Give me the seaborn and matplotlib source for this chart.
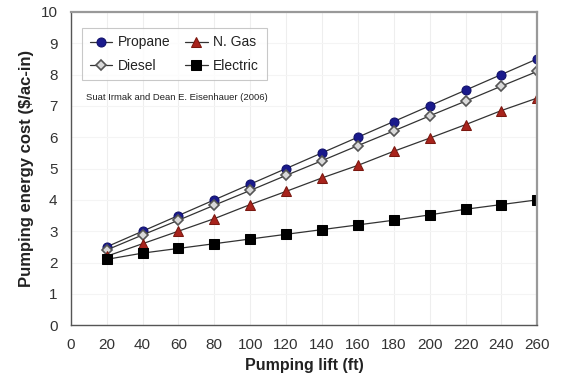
import pandas as pd
import seaborn as sns
import matplotlib
matplotlib.use("Agg")
import matplotlib.pyplot as plt

# Pumping lift (ft)
lift = [20, 40, 60, 80, 100, 120, 140, 160, 180, 200, 220, 240, 260]

# Pumping energy cost ($/ac-in)
propane = [2.5, 3.0, 3.5, 4.0, 4.5, 5.0, 5.5, 6.0, 6.5, 7.0, 7.5, 8.0, 8.5]
diesel = [2.4, 2.88, 3.35, 3.83, 4.3, 4.78, 5.25, 5.73, 6.2, 6.68, 7.15, 7.63, 8.1]
ngas = [2.2, 2.6, 3.0, 3.4, 3.85, 4.27, 4.7, 5.1, 5.55, 5.97, 6.4, 6.85, 7.25]
electric = [2.1, 2.3, 2.45, 2.6, 2.75, 2.9, 3.05, 3.2, 3.35, 3.52, 3.7, 3.85, 4.0]

x_ticks = [0, 20, 40, 60, 80, 100, 120, 140, 160, 180, 200, 220, 240, 260]
y_ticks = list(range(0, 11))

sns.set_style("white")
plt.rcParams['font.family'] = ['Liberation Sans', 'DejaVu Sans']

fig = plt.figure(figsize=(5.62, 3.83), dpi=100)
ax = fig.add_axes([0.126, 0.151, 0.830, 0.818])

# order chosen so the 2-column legend reads Propane / N. Gas on the first row
series = [
    ("Propane", propane, dict(marker="o", markersize=6.5, markerfacecolor="#1a1a8c",
                              markeredgecolor="#10106a")),
    ("Diesel", diesel, dict(marker="D", markersize=5, markerfacecolor="#d9d9d9",
                            markeredgecolor="#555555", markeredgewidth=1.2)),
    ("N. Gas", ngas, dict(marker="^", markersize=6.5, markerfacecolor="#a8231c",
                          markeredgecolor="#7a1810")),
    ("Electric", electric, dict(marker="s", markersize=6.5, markerfacecolor="black",
                                markeredgecolor="black")),
]

for name, vals, style in series:
    sns.lineplot(x=lift, y=vals, ax=ax, color="#333333", linewidth=0.9,
                 label=name, **style)

ax.set_xlim(0, 260)
ax.set_ylim(0, 10)
ax.set_xticks(x_ticks)
ax.set_yticks(y_ticks)
ax.tick_params(axis="both", direction="inout", length=7, width=0.8,
               color="#444444", labelsize=11, labelcolor="#333333", pad=6)

ax.grid(True, axis="x", color="#eeeeee", linewidth=0.8)
ax.grid(True, axis="y", color="#f4f4f4", linewidth=0.8)

for side in ["left", "bottom"]:
    ax.spines[side].set_color("#555555")
    ax.spines[side].set_linewidth(1.0)
for side in ["top", "right"]:
    ax.spines[side].set_color("#999999")
    ax.spines[side].set_linewidth(1.6)

ax.set_xlabel("Pumping lift (ft)", fontsize=11.5, fontweight="bold", color="#222222")
ax.set_ylabel("Pumping energy cost ($/ac-in)", fontsize=12, fontweight="bold",
              color="#222222", labelpad=5)

leg = ax.legend(ncol=2, loc="upper left", bbox_to_anchor=(0.024, 0.949),
                borderaxespad=0, fontsize=10, frameon=True, fancybox=False,
                handlelength=1.6, columnspacing=1.1, borderpad=0.55,
                labelspacing=0.65, handletextpad=0.4)
leg.get_frame().set_edgecolor("#bbbbbb")
leg.get_frame().set_linewidth(0.8)
for t in leg.get_texts():
    t.set_color("#222222")

ax.text(0.033, 0.728, "Suat Irmak and Dean E. Eisenhauer (2006)",
        transform=ax.transAxes, fontsize=6.8, color="#222222", va="center")

fig.savefig("out.png", dpi=100)
